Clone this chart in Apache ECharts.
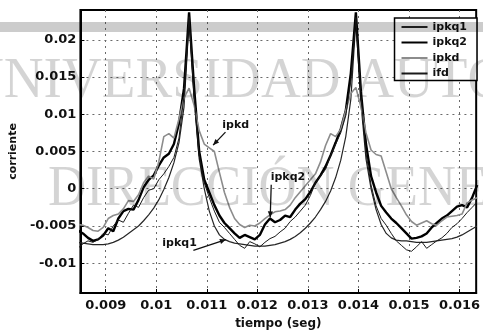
<!DOCTYPE html>
<html><head><meta charset="utf-8">
<script src="https://cdn.jsdelivr.net/npm/echarts@6/dist/echarts.min.js"></script>
<style>html,body{margin:0;padding:0;background:#fff}#c{width:483px;height:335px}</style>
</head><body><div id="c"></div>
<script>
// time (s)
const time = [0.00845,0.00855,0.00865,0.00875,0.00885,0.00895,0.00905,0.00915,0.00925,0.00935,
0.00945,0.00955,0.00965,0.00975,0.00985,0.00995,0.01005,0.01015,0.01025,0.01035,
0.01045,0.01055,0.01065,0.01075,0.01085,0.01095,0.01105,0.01115,0.01125,0.01135,
0.01145,0.01155,0.01165,0.01175,0.01185,0.01195,0.01205,0.01215,0.01225,0.01235,
0.01245,0.01255,0.01265,0.01275,0.01285,0.01295,0.01305,0.01315,0.01325,0.01335,
0.01345,0.01355,0.01365,0.01375,0.01385,0.01395,0.01405,0.01415,0.01425,0.01435,
0.01445,0.01455,0.01465,0.01475,0.01485,0.01495,0.01505,0.01515,0.01525,0.01535,
0.01545,0.01555,0.01565,0.01575,0.01585,0.01595,0.01605,0.01615,0.01625,0.01635];

const ipkq1 = [-0.0072,-0.0073,-0.0074,-0.0075,-0.0075,-0.0075,-0.0074,-0.0072,-0.0069,-0.0065,
-0.0060,-0.0055,-0.0050,-0.0043,-0.0035,-0.0026,-0.0015,-0.0001,0.0015,0.0035,
0.0062,0.0110,0.0226,0.0120,0.0040,0.0000,-0.0030,-0.0050,-0.0062,-0.0068,
-0.0071,-0.0073,-0.0074,-0.0075,-0.0076,-0.0077,-0.0077,-0.0077,-0.0076,-0.0075,
-0.0073,-0.0071,-0.0068,-0.0064,-0.0059,-0.0053,-0.0046,-0.0038,-0.0028,-0.0017,
-0.0003,0.0015,0.0038,0.0070,0.0120,0.0226,0.0115,0.0040,0.0000,-0.0028,
-0.0048,-0.0060,-0.0066,-0.0069,-0.0070,-0.0070,-0.0071,-0.0072,-0.0072,-0.0072,
-0.0071,-0.0070,-0.0069,-0.0068,-0.0067,-0.0065,-0.0062,-0.0058,-0.0054,-0.0050];

const ipkq2 = [-0.0056,-0.0060,-0.0066,-0.0070,-0.0068,-0.0063,-0.0053,-0.0057,-0.0040,-0.0030,
-0.0027,-0.0028,-0.0015,0.0002,0.0012,0.0018,0.0031,0.0042,0.0047,0.0060,
0.0088,0.0135,0.0237,0.0135,0.0050,0.0012,-0.0005,-0.0022,-0.0036,-0.0046,
-0.0053,-0.0060,-0.0066,-0.0062,-0.0065,-0.0068,-0.0062,-0.0048,-0.0040,-0.0045,
-0.0042,-0.0036,-0.0038,-0.0028,-0.0020,-0.0014,-0.0004,0.0008,0.0018,0.0030,
0.0045,0.0062,0.0080,0.0105,0.0155,0.0237,0.0130,0.0060,0.0017,-0.0005,
-0.0023,-0.0032,-0.0040,-0.0046,-0.0053,-0.0060,-0.0067,-0.0066,-0.0064,-0.0060,
-0.0052,-0.0046,-0.0040,-0.0036,-0.0030,-0.0024,-0.0022,-0.0025,-0.0012,0.0005];

const ipkd = [-0.0048,-0.0049,-0.0052,-0.0056,-0.0057,-0.0052,-0.0040,-0.0036,-0.0034,-0.0027,
-0.0016,-0.0017,-0.0008,0.0008,0.0017,0.0013,0.0036,0.0070,0.0074,0.0068,
0.0094,0.0122,0.0135,0.0112,0.0078,0.0060,0.0055,0.0050,0.0022,-0.0005,
-0.0025,-0.0040,-0.0048,-0.0052,-0.0049,-0.0050,-0.0046,-0.0040,-0.0035,-0.0031,
-0.0030,-0.0028,-0.0022,-0.0012,-0.0004,0.0004,0.0012,0.0020,0.0036,0.0058,
0.0074,0.0070,0.0080,0.0105,0.0128,0.0136,0.0110,0.0075,0.0052,0.0046,
0.0044,0.0022,0.0000,-0.0012,-0.0023,-0.0035,-0.0044,-0.0049,-0.0046,-0.0043,
-0.0047,-0.0049,-0.0043,-0.0038,-0.0037,-0.0036,-0.0034,-0.0019,-0.0015,-0.0012];

const ifd = [-0.0080,-0.0074,-0.0070,-0.0072,-0.0068,-0.0060,-0.0062,-0.0050,-0.0042,-0.0045,
-0.0033,-0.0022,-0.0025,-0.0012,-0.0002,0.0000,0.0012,0.0020,0.0030,0.0042,
0.0068,0.0125,0.0231,0.0125,0.0045,0.0008,-0.0012,-0.0030,-0.0045,-0.0052,
-0.0060,-0.0068,-0.0076,-0.0080,-0.0071,-0.0074,-0.0078,-0.0072,-0.0067,-0.0064,
-0.0058,-0.0053,-0.0044,-0.0038,-0.0030,-0.0022,-0.0009,0.0008,0.0017,0.0026,
0.0045,0.0060,0.0075,0.0098,0.0145,0.0230,0.0125,0.0048,0.0005,-0.0023,
-0.0040,-0.0049,-0.0060,-0.0070,-0.0076,-0.0082,-0.0084,-0.0078,-0.0071,-0.0080,
-0.0075,-0.0070,-0.0066,-0.0060,-0.0052,-0.0047,-0.0040,-0.0032,-0.0025,-0.0018];

const xTicks = [0.009,0.010,0.011,0.012,0.013,0.014,0.015,0.016];
const yTicks = [-0.01,-0.005,0,0.005,0.01,0.015,0.02];
const seriesNames = ['ipkq1','ipkq2','ipkd','ifd'];
const xTitle = 'tiempo (seg)';
const yTitle = 'corriente';
const notes = [
  {text:'ipkd',  at:[0.011573,0.00856], from:[0.011370,0.00760], to:[0.011125,0.00585]},
  {text:'ipkq2', at:[0.012606,0.00160], from:[0.012275,0.00053], to:[0.012255,-0.00385]},
  {text:'ipkq1', at:[0.010462,-0.00735], from:[0.010735,-0.00829], to:[0.011378,-0.00682]}
];
const watermark1 = 'UNIVERSIDAD AUTÓNOMA DE NUEVO LEÓN';
const watermark2 = 'DIRECCIÓN GENERAL DE BIBLIOTECAS';

const FONT = 'DejaVu Sans';
const pairs = v => time.map((t,i)=>[t,v[i]]);
const fmt = v => String(parseFloat(Number(v).toFixed(4)));
const seriesStyle = {
  ipkq1:{color:'#262626', width:1.2},
  ipkq2:{color:'#000000', width:2.4},
  ipkd:{color:'#8c8c8c', width:1.6},
  ifd:{color:'#1a1a1a', width:1}
};
const dataMap = {ipkq1, ipkq2, ipkd, ifd};

const chart = echarts.init(document.getElementById('c'), null, {renderer:'canvas'});
chart.setOption({
  animation:false,
  backgroundColor:'#ffffff',
  grid:{left:79, top:10, width:401, height:284, show:true, borderColor:'#000', borderWidth:2, backgroundColor:'transparent'},
  xAxis:{
    type:'value', min:0.0085, max:0.01633,
    axisLine:{show:true, onZero:false, lineStyle:{color:'#000', width:2}},
    axisTick:{show:true, inside:true, length:4, customValues:xTicks, lineStyle:{color:'#000'}},
    axisLabel:{customValues:xTicks, formatter:fmt, color:'#111', fontFamily:FONT, fontWeight:'bold', fontSize:13, margin:6},
    splitLine:{show:true, lineStyle:{color:'#6a6a6a', type:[2,4], width:1}},
    name:xTitle, nameLocation:'middle', nameGap:25,
    nameTextStyle:{color:'#111', fontFamily:FONT, fontWeight:'bold', fontSize:12}
  },
  yAxis:{
    type:'value', min:-0.014, max:0.024,
    axisLine:{show:true, onZero:false, lineStyle:{color:'#000', width:2}},
    axisTick:{show:true, inside:true, length:4, customValues:yTicks, lineStyle:{color:'#000'}},
    axisLabel:{customValues:yTicks, formatter:fmt, color:'#111', fontFamily:FONT, fontWeight:'bold', fontSize:13, margin:4},
    splitLine:{show:true, lineStyle:{color:'#6a6a6a', type:[2,4], width:1}},
    name:yTitle, nameLocation:'middle', nameGap:58,
    nameTextStyle:{color:'#111', fontFamily:FONT, fontWeight:'bold', fontSize:11}
  },
  legend:{
    data:seriesNames, orient:'vertical', right:6, top:18, align:'left',
    backgroundColor:'#fff', borderColor:'#000', borderWidth:1.5, borderRadius:0,
    padding:[3,10,1,6], itemGap:3.5, itemWidth:26, itemHeight:10,
    itemStyle:{opacity:0},
    textStyle:{fontFamily:FONT, fontWeight:'bold', fontSize:11, color:'#111', lineHeight:12}
  },
  series:seriesNames.map(n=>({
    name:n, type:'line', data:pairs(dataMap[n]), symbol:'none', clip:true,
    lineStyle:{color:seriesStyle[n].color, width:seriesStyle[n].width},
    itemStyle:{color:seriesStyle[n].color}
  }))
});

// annotations and scanned watermark
const P = p => chart.convertToPixel({gridIndex:0}, p);
const g = [];
notes.forEach(a=>{
  const c = P(a.at), f = P(a.from), t = P(a.to);
  g.push({type:'text', x:c[0], y:c[1], z:50, style:{text:a.text, font:'bold 11px "DejaVu Sans"', fill:'#111', align:'center', verticalAlign:'middle'}});
  g.push({type:'line', z:50, shape:{x1:f[0], y1:f[1], x2:t[0], y2:t[1]}, style:{stroke:'#111', lineWidth:1.3}});
  const ang = Math.atan2(t[1]-f[1], t[0]-f[0]), L = 6, W = 2.6;
  const bx = t[0]-L*Math.cos(ang), by = t[1]-L*Math.sin(ang);
  g.push({type:'polygon', z:50, shape:{points:[[t[0],t[1]],[bx-W*Math.sin(ang), by+W*Math.cos(ang)],[bx+W*Math.sin(ang), by-W*Math.cos(ang)]]}, style:{fill:'#111'}});
});
g.push({type:'rect', z:100, silent:true, shape:{x:0, y:22, width:483, height:10}, style:{fill:'rgba(0,0,0,0.2)'}});
g.push({type:'text', z:100, silent:true, x:-36, y:82, scaleX:0.95, style:{text:watermark1, font:'58px "Liberation Serif"', fill:'rgba(0,0,0,0.17)', align:'left', verticalAlign:'middle'}});
g.push({type:'text', z:100, silent:true, x:48, y:190, scaleX:0.94, style:{text:watermark2, font:'56px "Liberation Serif"', fill:'rgba(0,0,0,0.17)', align:'left', verticalAlign:'middle'}});
chart.setOption({graphic:{elements:g}});
</script></body></html>
